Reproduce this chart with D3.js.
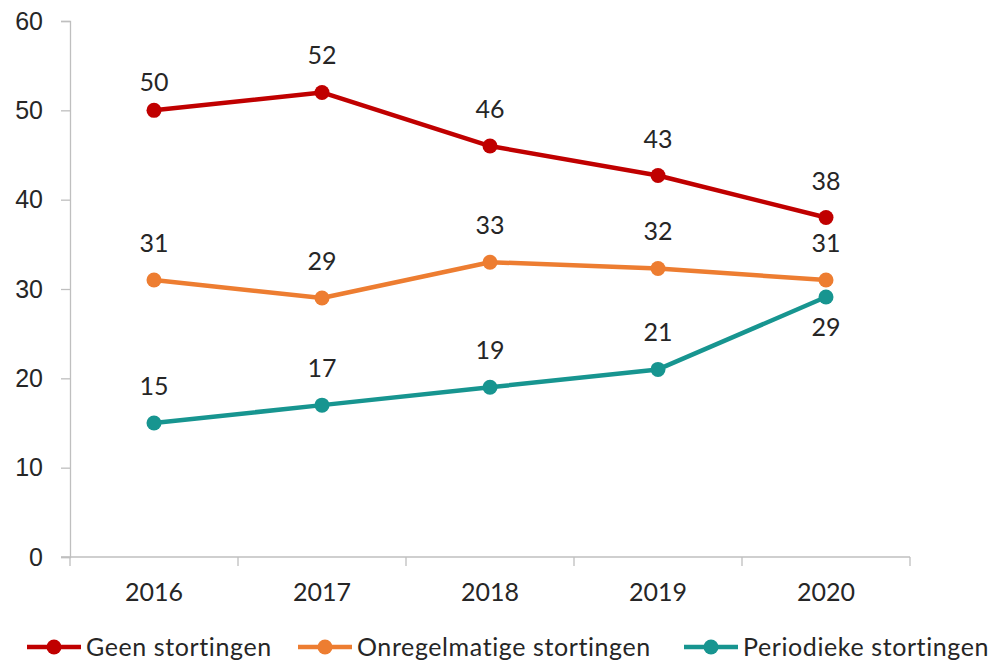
<!DOCTYPE html>
<html>
<head>
<meta charset="utf-8">
<script src="https://cdn.jsdelivr.net/npm/d3@7"></script>
<style>
  html, body { margin: 0; padding: 0; background: #fff; }
  svg { display: block; font-family: Lato, "Open Sans", sans-serif; }
</style>
</head>
<body>
<svg id="chart" width="1005" height="660"></svg>
<script>
// Aandeel huishoudens naar type storting, per jaar (%)
const years = ["2016", "2017", "2018", "2019", "2020"];
const geen = [50, 52, 46, 42.7, 38];
const onregelmatig = [31, 29, 33, 32.3, 31];
const periodiek = [15, 17, 19, 21, 29.1];
const yTicks = [0, 10, 20, 30, 40, 50, 60];

const series = [
  { name: "Geen stortingen", values: geen, color: "#c00000", labelPos: ["near", "above", "above", "above", "above"] },
  { name: "Onregelmatige stortingen", values: onregelmatig, color: "#ed7d31", labelPos: ["above", "above", "above", "above", "above"] },
  { name: "Periodieke stortingen", values: periodiek, color: "#179590", labelPos: ["above", "above", "above", "above", "below"] }
];

// baseline offset of a data label relative to its point
const labelOffset = { above: -28, near: -19, below: 39 };

const svg = d3.select("#chart");
const margin = { left: 70, right: 95, top: 21, bottom: 103 };
const W = 1005, H = 660;
const iw = W - margin.left - margin.right;
const ih = H - margin.top - margin.bottom;
const fontSize = "25px";

const g = svg.append("g").attr("transform", `translate(${margin.left},${margin.top})`);

const x = d3.scaleBand().domain(years).range([0, iw]);
const y = d3.scaleLinear().domain([0, 60]).range([ih, 0]);

const axisColor = "#bfbfbf";
const textColor = "#262626";

// Y axis
const yAxis = g.append("g").call(d3.axisLeft(y).tickValues(yTicks).tickSize(9).tickPadding(8));
yAxis.select(".domain").attr("stroke", axisColor).attr("stroke-width", 1.3);
yAxis.selectAll(".tick line").attr("stroke", axisColor).attr("stroke-width", 1.3);
yAxis.selectAll(".tick text").attr("fill", textColor).style("font-size", fontSize).attr("x", -27);

// X axis with tick marks at category boundaries
const xAxisG = g.append("g").attr("transform", `translate(0,${ih})`);
xAxisG.append("line")
  .attr("x1", -9).attr("x2", iw).attr("y1", 0).attr("y2", 0)
  .attr("stroke", axisColor).attr("stroke-width", 1.3);
const bounds = years.map(d => x(d)).concat([x(years[years.length - 1]) + x.bandwidth()]);
xAxisG.selectAll(".bt").data(bounds).join("line")
  .attr("x1", d => d).attr("x2", d => d).attr("y1", 0).attr("y2", 9)
  .attr("stroke", axisColor).attr("stroke-width", 1.3);
xAxisG.selectAll(".xl").data(years).join("text")
  .attr("x", d => x(d) + x.bandwidth() / 2)
  .attr("y", 44)
  .attr("text-anchor", "middle")
  .attr("fill", textColor)
  .style("font-size", fontSize)
  .text(d => d);

const cx = d => x(d) + x.bandwidth() / 2;
const line = d3.line().x(d => cx(d.year)).y(d => y(d.value));
const fmt = d3.format(".0f");

series.forEach(s => {
  const pts = years.map((yr, i) => ({ year: yr, value: s.values[i], pos: s.labelPos[i] }));
  g.append("path").datum(pts)
    .attr("d", line)
    .attr("fill", "none")
    .attr("stroke", s.color)
    .attr("stroke-width", 4.5)
    .attr("stroke-linejoin", "round");
  g.selectAll(null).data(pts).join("circle")
    .attr("cx", d => cx(d.year)).attr("cy", d => y(d.value))
    .attr("r", 7.5).attr("fill", s.color);
  g.selectAll(null).data(pts).join("text")
    .attr("x", d => cx(d.year))
    .attr("y", d => y(d.value) + labelOffset[d.pos])
    .attr("text-anchor", "middle")
    .attr("fill", textColor)
    .style("font-size", fontSize)
    .text(d => fmt(d.value));
});

// Legend
const legendX = [27, 298, 684];
const legendY = 647;
const lg = svg.append("g");
series.forEach((s, i) => {
  const item = lg.append("g").attr("transform", `translate(${legendX[i]},${legendY})`);
  item.append("line").attr("x1", 0).attr("x2", 54).attr("y1", 0).attr("y2", 0)
    .attr("stroke", s.color).attr("stroke-width", 4.5);
  item.append("circle").attr("cx", 27).attr("cy", 0).attr("r", 7.5).attr("fill", s.color);
  item.append("text").attr("x", 59).attr("y", 9)
    .attr("fill", textColor).style("font-size", fontSize).style("letter-spacing", "0.6px")
    .text(s.name);
});
</script>
</body>
</html>
